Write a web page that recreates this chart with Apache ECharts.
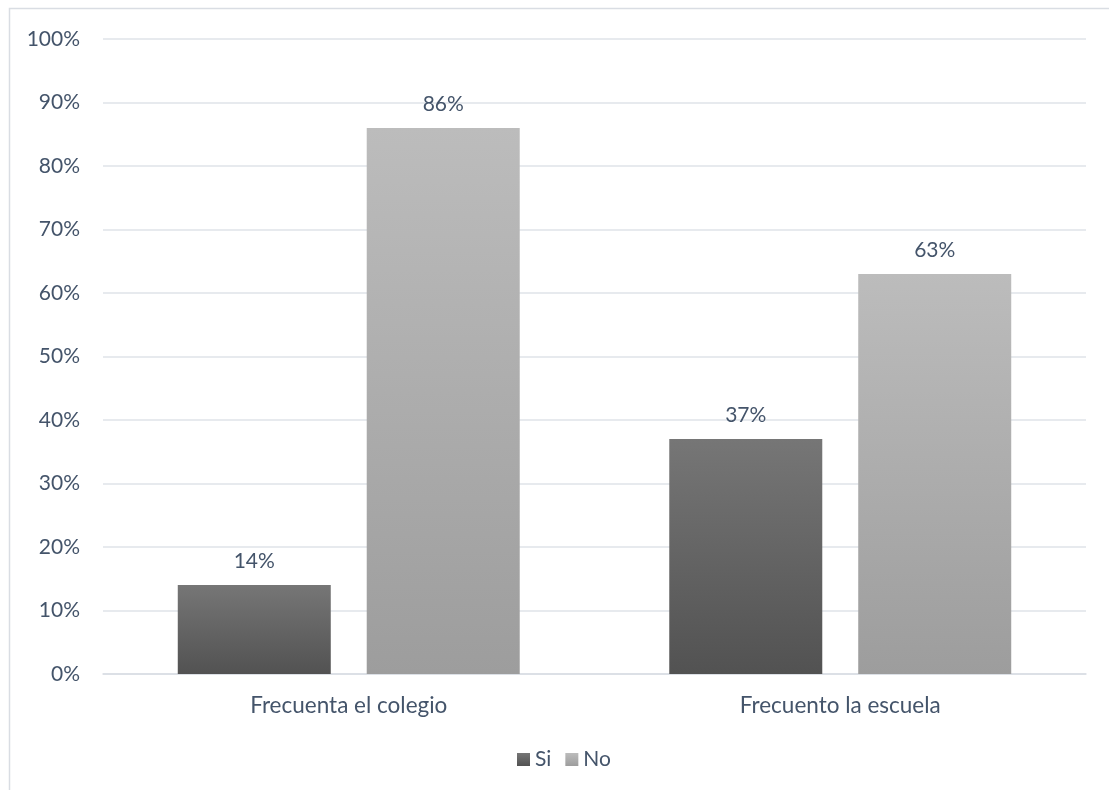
<!DOCTYPE html>
<html><head><meta charset="utf-8">
<script src="https://cdn.jsdelivr.net/npm/echarts@6/dist/echarts.min.js"></script>
<style>html,body{margin:0;padding:0;background:#fff}#c{width:1109px;height:790px}</style>
</head><body><div id="c"></div>
<script>
const categories = ["Frecuenta el colegio", "Frecuento la escuela"];
const seriesNames = ["Si", "No"];
const siValues = [14, 37];
const noValues = [86, 63];
const yTicks = [0, 10, 20, 30, 40, 50, 60, 70, 80, 90, 100];

const txt = '#44546a';
const font = 'Lato, "Open Sans", sans-serif';
const fs = 21;
function grad(top, bottom) {
  return new echarts.graphic.LinearGradient(0, 0, 0, 1, [{offset: 0, color: top}, {offset: 1, color: bottom}]);
}
const chart = echarts.init(document.getElementById('c'));
chart.setOption({
  animation: false,
  textStyle: {fontFamily: font},
  graphic: [{type: 'rect', shape: {x: 9.5, y: 8.5, width: 1300, height: 1000}, style: {fill: 'none', stroke: '#d9dde3', lineWidth: 1.5}, silent: true, z: -1}],
  grid: {left: 103, right: 23, top: 39, bottom: 116},
  legend: {
    data: seriesNames, bottom: 15, left: 512, itemWidth: 13, itemHeight: 13, itemGap: 14,
    textStyle: {color: txt, fontSize: fs, fontFamily: font}, icon: 'rect'
  },
  xAxis: {
    type: 'category', data: categories,
    axisLine: {lineStyle: {color: '#d9dde3', width: 1.5}}, axisTick: {show: false},
    axisLabel: {color: txt, fontSize: 22.5, margin: 20, fontFamily: font}
  },
  yAxis: {
    type: 'value', min: 0, max: 100, interval: 10,
    axisLabel: {color: txt, fontSize: fs, margin: 23, fontFamily: font, formatter: v => yTicks.includes(v) ? v + '%' : ''},
    splitLine: {lineStyle: {color: '#dfe3e8', width: 1.5}},
    axisLine: {show: false}, axisTick: {show: false}
  },
  series: [
    {name: 'Si', type: 'bar', data: siValues, barWidth: 153, barGap: '23.5%',
      itemStyle: {color: grad('#767676', '#525252')},
      label: {show: true, position: 'top', distance: 13, color: txt, fontSize: fs, fontFamily: font, formatter: p => p.value + '%'}},
    {name: 'No', type: 'bar', data: noValues, barWidth: 153,
      itemStyle: {color: grad('#bcbcbc', '#9d9d9d')},
      label: {show: true, position: 'top', distance: 13, color: txt, fontSize: fs, fontFamily: font, formatter: p => p.value + '%'}}
  ]
});
</script></body></html>
